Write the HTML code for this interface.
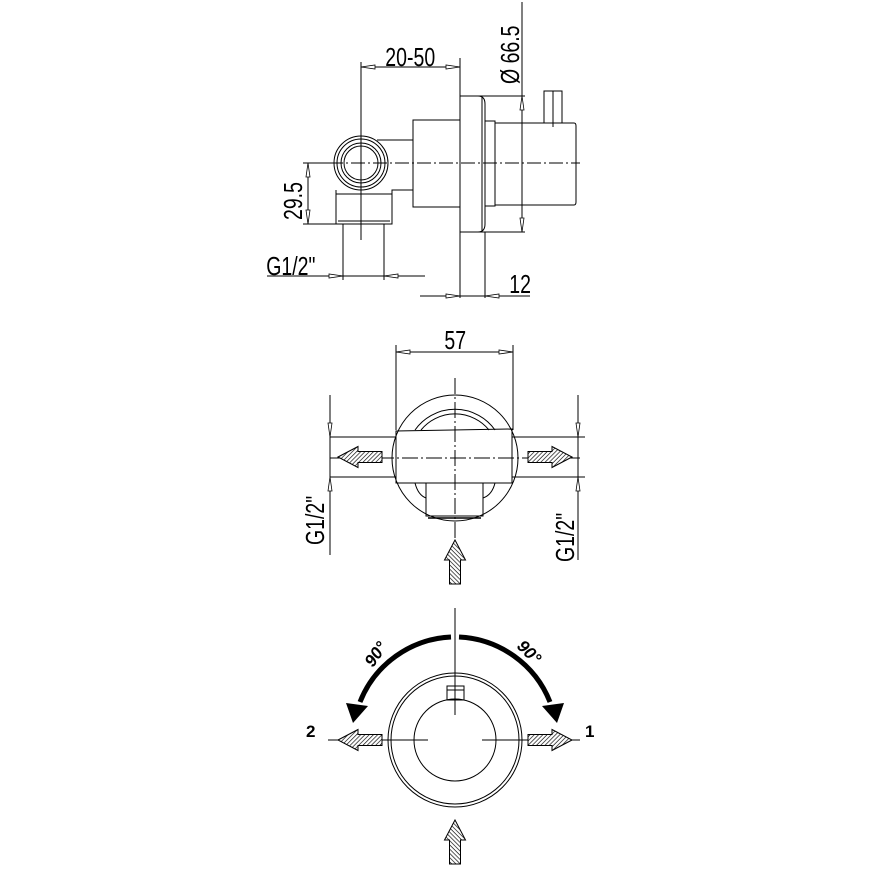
<!DOCTYPE html>
<html><head><style>html,body{margin:0;padding:0;background:#fff}svg{display:block}</style></head>
<body>
<svg width="869" height="869" viewBox="0 0 869 869" xmlns="http://www.w3.org/2000/svg" font-family="Liberation Sans, sans-serif">
<defs>
<pattern id="h" patternUnits="userSpaceOnUse" width="3" height="3" patternTransform="rotate(45)">
<rect width="3" height="3" fill="#fff"/><line x1="0" y1="0" x2="0" y2="3" stroke="#000" stroke-width="1.3"/></pattern>
<path id="ar" d="M0,0 L20,-10.5 L20,-5.5 L44,-5.5 L44,5.5 L20,5.5 L20,10.5 Z" fill="url(#h)" stroke="#000" stroke-width="1"/>
<path id="tk" d="M0,0 L14,-2 L14,2 Z" fill="#fff" stroke="#000" stroke-width="0.8"/>
</defs>
<g stroke="#000" fill="none" stroke-width="1">
<!-- TOP VIEW -->
<line x1="361" y1="62" x2="361" y2="240"/>
<line x1="460" y1="58" x2="460" y2="298"/>
<line x1="361" y1="67" x2="460" y2="67"/>
<rect x="460" y="96" width="22" height="136"/>
<path d="M478,96 Q485,96 485,104 L485,224 Q485,232 478,232"/>
<line x1="482" y1="96" x2="525" y2="96"/>
<line x1="482" y1="232" x2="525" y2="232"/>
<line x1="522" y1="2" x2="522" y2="232"/>
<rect x="413" y="120" width="47" height="87"/>
<rect x="485" y="121" width="10" height="85"/>
<path d="M495,123 L574,123 Q576,123 576,126 L576,202 Q576,205 574,205 L495,205"/>
<rect x="544" y="91" width="18" height="32"/>
<line x1="553" y1="91" x2="553" y2="127"/>
<line x1="307" y1="163" x2="580" y2="163" stroke-dasharray="14,3,2,3"/>
<circle cx="361" cy="163" r="27"/><circle cx="361" cy="163" r="24"/>
<circle cx="361" cy="163" r="20"/><circle cx="361" cy="163" r="17"/>
<line x1="377" y1="140" x2="413" y2="140"/>
<path d="M336,190 L336,224 L392,224 L392,190 L413,190"/>
<line x1="336" y1="194" x2="392" y2="194"/>
<line x1="338" y1="221" x2="390" y2="221"/>
<line x1="343" y1="224" x2="343" y2="280"/>
<line x1="384" y1="224" x2="384" y2="280"/>
<line x1="267" y1="276" x2="425" y2="276"/>
<line x1="303" y1="163" x2="340" y2="163"/>
<line x1="303" y1="224" x2="336" y2="224"/>
<line x1="308" y1="163" x2="308" y2="224"/>
<line x1="420" y1="296" x2="530" y2="296"/>
<line x1="485" y1="232" x2="485" y2="298"/>
<!-- MIDDLE VIEW -->
<line x1="396" y1="345" x2="396" y2="430"/>
<line x1="513" y1="345" x2="513" y2="430"/>
<line x1="396" y1="352" x2="513" y2="352"/>
<circle cx="455" cy="458" r="63"/>
<path d="M415,430 A49,49 0 0 1 495,430"/>
<path d="M421,430 A44,44 0 0 1 489,430"/>
<path d="M396,431 L512,429 L512,483 L396,483 Z"/>
<path d="M426,483 L426,516 L483,516 L483,483"/>
<line x1="428" y1="518" x2="481" y2="518" stroke-width="1.5"/>
<path d="M415,483 Q418,495 426,498"/><path d="M495,483 Q492,495 483,498"/>
<line x1="455" y1="378" x2="455" y2="545" stroke-dasharray="16,3,2,3"/>
<line x1="330" y1="458" x2="580" y2="458" stroke-dasharray="16,3,2,3"/>
<line x1="330" y1="437" x2="396" y2="437"/><line x1="330" y1="477" x2="396" y2="477"/>
<line x1="512" y1="437" x2="585" y2="437"/><line x1="512" y1="477" x2="585" y2="477"/>
<line x1="330" y1="395" x2="330" y2="555"/>
<line x1="578" y1="395" x2="578" y2="560"/>
<!-- BOTTOM VIEW -->
<circle cx="455" cy="740" r="67"/><circle cx="455" cy="740" r="64"/>
<circle cx="455" cy="740" r="41"/>
<rect x="447" y="686" width="17" height="14"/>
<line x1="447" y1="690" x2="464" y2="690"/>
<line x1="455" y1="608" x2="455" y2="715"/>
<line x1="328" y1="740" x2="428" y2="740"/>
<line x1="482" y1="740" x2="580" y2="740"/>
<path d="M451,637 A103,103 0 0 0 360,702" stroke-width="5"/>
<path d="M459,637 A103,103 0 0 1 550,702" stroke-width="5"/>
</g>
<!-- ticks -->
<use href="#tk" transform="translate(361,67)"/><use href="#tk" transform="translate(460,67) rotate(180)"/>
<use href="#tk" transform="translate(522,96) rotate(90)"/><use href="#tk" transform="translate(522,232) rotate(-90)"/>
<use href="#tk" transform="translate(308,163) rotate(90)"/><use href="#tk" transform="translate(308,224) rotate(-90)"/>
<use href="#tk" transform="translate(343,276) rotate(180)"/><use href="#tk" transform="translate(384,276)"/>
<use href="#tk" transform="translate(460,296) rotate(180)"/><use href="#tk" transform="translate(485,296)"/>
<use href="#tk" transform="translate(396,352)"/><use href="#tk" transform="translate(513,352) rotate(180)"/>
<use href="#tk" transform="translate(330,437) rotate(-90)"/><use href="#tk" transform="translate(330,477) rotate(90)"/>
<use href="#tk" transform="translate(578,437) rotate(-90)"/><use href="#tk" transform="translate(578,477) rotate(90)"/>
<!-- arrowheads of rotation -->
<path d="M346,703 L368,706 L353,723 Z" fill="#000"/>
<path d="M564,703 L542,706 L557,723 Z" fill="#000"/>
<!-- hatched arrows -->
<use href="#ar" transform="translate(338,457)"/>
<use href="#ar" transform="translate(572,457) rotate(180)"/>
<use href="#ar" transform="translate(455,540) rotate(90)"/>
<use href="#ar" transform="translate(338,740)"/>
<use href="#ar" transform="translate(572,740) rotate(180)"/>
<use href="#ar" transform="translate(455,820) rotate(90)"/>
<!-- text -->
<g font-size="26" fill="#000" transform="scale(0.75,1)">
<text x="547" y="66" text-anchor="middle">20-50</text>
<text x="355" y="275">G1/2"</text>
<text x="679" y="293">12</text>
<text x="607" y="349" text-anchor="middle">57</text>
</g>
<g font-size="26" fill="#000">
<text transform="translate(519,84) rotate(-90) scale(0.75,1)">Ø 66.5</text>
<text transform="translate(302,220) rotate(-90) scale(0.75,1)">29.5</text>
<text transform="translate(324,545) rotate(-90) scale(0.75,1)">G1/2"</text>
<text transform="translate(574,562) rotate(-90) scale(0.75,1)">G1/2"</text>
</g>
<g font-size="17" font-weight="bold" font-style="italic" fill="#000">
<text transform="translate(373,668) rotate(-55)">90°</text>
<text transform="translate(516,647) rotate(45)">90°</text>
</g>
<g font-size="17" font-weight="bold" fill="#000">
<text x="306" y="737">2</text>
<text x="585" y="737">1</text>
</g>
</svg>
</body></html>
